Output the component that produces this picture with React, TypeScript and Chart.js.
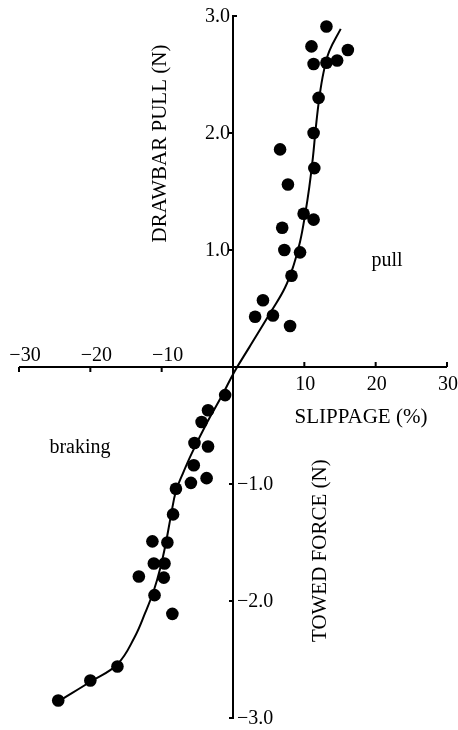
import { useEffect, useRef } from "react";
import { Chart, registerables } from "chart.js";

Chart.register(...registerables);

// Measured points: pull side (positive slippage)
const pullX = [13.1, 11.0, 16.1, 11.3, 13.1, 14.6, 12.0, 11.3, 6.6, 11.4, 7.7, 9.9, 11.3, 6.9, 7.2, 9.4, 8.2, 4.2, 3.1, 5.6, 8.0];
const pullY = [2.91, 2.74, 2.71, 2.59, 2.60, 2.62, 2.30, 2.0, 1.86, 1.70, 1.56, 1.31, 1.26, 1.19, 1.00, 0.98, 0.78, 0.57, 0.43, 0.44, 0.35];

// Measured points: braking side (negative slippage)
const brakeX = [-1.1, -3.5, -4.4, -5.4, -3.5, -5.5, -5.9, -3.7, -8.0, -8.4, -11.3, -9.2, -11.1, -9.6, -13.2, -9.7, -11.0, -8.5, -16.2, -20.0, -24.5];
const brakeY = [-0.24, -0.37, -0.47, -0.65, -0.68, -0.84, -0.99, -0.95, -1.04, -1.26, -1.49, -1.50, -1.68, -1.68, -1.79, -1.80, -1.95, -2.11, -2.56, -2.68, -2.85];

// Fitted curve
const curveX = [-24, -20, -16.2, -13.8, -12.3, -11.1, -10.2, -9.4, -8.7, -8.0, -7.1, -5.8, -3.6, -1.5, 0.2, 2.3, 5.4, 7.3, 8.5, 9.4, 10.1, 10.7, 11.2, 11.6, 12.1, 12.7, 13.5, 15.1];
const curveY = [-2.84, -2.69, -2.54, -2.31, -2.1, -1.91, -1.72, -1.5, -1.27, -1.06, -0.92, -0.74, -0.47, -0.24, -0.04, 0.17, 0.48, 0.68, 0.87, 1.07, 1.3, 1.54, 1.79, 2.04, 2.3, 2.52, 2.7, 2.89];

const xTicksNeg = [-30, -20, -10];
const xTicksPos = [10, 20, 30];
const xLabelsNeg = ["\u221230", "\u221220", "\u221210"];
const xLabelsPos = ["10", "20", "30"];
const yTicksPos = [3, 2, 1];
const yTicksNeg = [-1, -2, -3];
const yLabelsPos = ["3.0", "2.0", "1.0"];
const yLabelsNeg = ["\u22121.0", "\u22122.0", "\u22123.0"];

const FONT = '"Liberation Serif", "Times New Roman", serif';

export default function App() {
  const ref = useRef<HTMLCanvasElement>(null);

  useEffect(() => {
    if (!ref.current) return;

    const axesPlugin = {
      id: "crossAxes",
      beforeDatasetsDraw(chart: any) {
        const { ctx } = chart;
        const xs = chart.scales.x;
        const ys = chart.scales.y;
        const x0 = xs.getPixelForValue(0);
        const y0 = ys.getPixelForValue(0);
        ctx.save();
        ctx.strokeStyle = "#000";
        ctx.lineWidth = 2;
        ctx.beginPath();
        ctx.moveTo(xs.getPixelForValue(-30), y0);
        ctx.lineTo(xs.getPixelForValue(30), y0);
        ctx.moveTo(x0, ys.getPixelForValue(3));
        ctx.lineTo(x0, ys.getPixelForValue(-3));
        xTicksNeg.forEach((v) => {
          const p = xs.getPixelForValue(v);
          ctx.moveTo(p, y0);
          ctx.lineTo(p, y0 + 5);
        });
        xTicksPos.forEach((v) => {
          const p = xs.getPixelForValue(v);
          ctx.moveTo(p, y0);
          ctx.lineTo(p, y0 - 5);
        });
        [2, 1, -1, -2].forEach((v) => {
          const p = ys.getPixelForValue(v);
          ctx.moveTo(x0, p);
          ctx.lineTo(x0 - 4, p);
        });
        ctx.moveTo(x0 - 1, ys.getPixelForValue(3));
        ctx.lineTo(x0 + 4, ys.getPixelForValue(3));
        ctx.moveTo(x0 + 1, ys.getPixelForValue(-3));
        ctx.lineTo(x0 - 4, ys.getPixelForValue(-3));
        ctx.stroke();

        ctx.fillStyle = "#000";
        ctx.font = `20px ${FONT}`;
        ctx.textBaseline = "middle";
        ctx.textAlign = "center";
        xTicksNeg.forEach((v, i) => {
          ctx.fillText(xLabelsNeg[i], xs.getPixelForValue(v) + 6, y0 - 11);
        });
        xTicksPos.forEach((v, i) => {
          ctx.fillText(xLabelsPos[i], xs.getPixelForValue(v) + 1, y0 + 18);
        });
        ctx.textAlign = "right";
        yTicksPos.forEach((v, i) => {
          ctx.fillText(yLabelsPos[i], x0 - 3, ys.getPixelForValue(v) + 1);
        });
        ctx.textAlign = "left";
        yTicksNeg.forEach((v, i) => {
          ctx.fillText(yLabelsNeg[i], x0 + 4, ys.getPixelForValue(v) + 1);
        });

        ctx.font = `21px ${FONT}`;
        ctx.textAlign = "center";
        ctx.fillText("SLIPPAGE (%)", x0 + 128, y0 + 50);
        ctx.font = `20px ${FONT}`;
        ctx.fillText("pull", x0 + 154, ys.getPixelForValue(0.91));
        ctx.fillText("braking", x0 - 153, ys.getPixelForValue(-0.69));

        ctx.font = `21px ${FONT}`;
        ctx.save();
        ctx.translate(x0 - 73, ys.getPixelForValue(1.91));
        ctx.rotate(-Math.PI / 2);
        ctx.fillText("DRAWBAR PULL (N)", 0, 0);
        ctx.restore();
        ctx.save();
        ctx.translate(x0 + 87, ys.getPixelForValue(-1.57));
        ctx.rotate(-Math.PI / 2);
        ctx.fillText("TOWED FORCE (N)", 0, 0);
        ctx.restore();
        ctx.restore();
      },
    };

    const chart = new Chart(ref.current, {
      type: "scatter",
      data: {
        datasets: [
          {
            label: "curve",
            data: curveX.map((x, i) => ({ x, y: curveY[i] })),
            showLine: true,
            borderColor: "#000",
            borderWidth: 2,
            pointRadius: 0,
            tension: 0.4,
            fill: false,
          } as any,
          {
            label: "pull",
            data: pullX.map((x, i) => ({ x, y: pullY[i] })),
            backgroundColor: "#000",
            borderColor: "#000",
            borderWidth: 0,
            pointRadius: 6.3,
          },
          {
            label: "braking",
            data: brakeX.map((x, i) => ({ x, y: brakeY[i] })),
            backgroundColor: "#000",
            borderColor: "#000",
            borderWidth: 0,
            pointRadius: 6.3,
          },
        ],
      },
      options: {
        animation: false,
        responsive: false,
        devicePixelRatio: 1,
        layout: { padding: { left: 19, right: 11, top: 16, bottom: 12 } },
        scales: {
          x: { type: "linear", min: -30, max: 30, display: false },
          y: { type: "linear", min: -3, max: 3, display: false },
        },
        plugins: { legend: { display: false }, tooltip: { enabled: false } },
      },
      plugins: [axesPlugin],
    });
    return () => chart.destroy();
  }, []);

  return (
    <div style={{ position: "absolute", left: 0, top: 0, width: 458, height: 730, background: "#fff" }}>
      <canvas ref={ref} width={458} height={730} style={{ display: "block" }} />
    </div>
  );
}
